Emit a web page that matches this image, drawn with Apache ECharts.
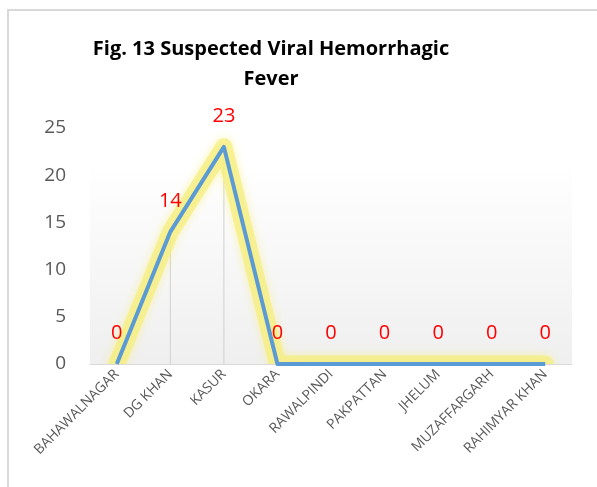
<!DOCTYPE html>
<html>
<head>
<meta charset="utf-8">
<script src="https://cdn.jsdelivr.net/npm/echarts@6/dist/echarts.min.js"></script>
<style>
  html, body { margin: 0; padding: 0; background: #fff; }
  #chart { width: 597px; height: 487px; }
</style>
</head>
<body>
<div id="chart"></div>
<script>
const districts = ["BAHAWALNAGAR", "DG KHAN", "KASUR", "OKARA", "RAWALPINDI", "PAKPATTAN", "JHELUM", "MUZAFFARGARH", "RAHIMYAR KHAN"]
const cases = [0, 14, 23, 0, 0, 0, 0, 0, 0]
const yTicks = [0, 5, 10, 15, 20, 25]

const chart = echarts.init(document.getElementById("chart"))
chart.setOption({
  animation: false,
  title: {
    text: "Fig. 13 Suspected Viral Hemorrhagic\nFever",
    left: 266,
    top: 29,
    textAlign: "center",
    textStyle: {
      fontFamily: "Open Sans",
      fontWeight: "bold",
      fontSize: 20,
      lineHeight: 30,
      color: "#000"
    }
  },
  graphic: [
    {
      type: "polyline",
      shape: { points: [[8, 500], [8, 10], [610, 10]] },
      style: { stroke: "#d9d9d9", lineWidth: 2, fill: null },
      silent: true
    },
    {
      // hides the glow below the plot area
      type: "rect",
      shape: { x: 85, y: 365, width: 500, height: 40 },
      style: { fill: "#fff" },
      z: 2.5,
      silent: true
    }
  ],
  grid: {
    left: 90,
    right: 25,
    top: 128,
    bottom: 123,
    show: true,
    borderWidth: 0,
    backgroundColor: {
      type: "linear", x: 0, y: 0, x2: 0, y2: 1,
      colorStops: [
        { offset: 0, color: "#ffffff" },
        { offset: 0.15, color: "#ffffff" },
        { offset: 1, color: "#efefef" }
      ]
    }
  },
  xAxis: {
    type: "category",
    data: districts,
    boundaryGap: true,
    z: 2.6,
    axisLine: { lineStyle: { color: "#d9d9d9", width: 1 } },
    axisTick: { show: false },
    axisLabel: {
      rotate: 45,
      interval: 0,
      margin: 8,
      color: "#595959",
      fontFamily: "Open Sans",
      fontSize: 14
    }
  },
  yAxis: {
    type: "value",
    min: yTicks[0],
    max: yTicks[yTicks.length - 1],
    interval: 5,
    axisLine: { show: false },
    axisTick: { show: false },
    splitLine: { show: false },
    axisLabel: {
      margin: 24,
      color: "#595959",
      fontFamily: "Open Sans",
      fontSize: 19
    }
  },
  series: [
    {
      // drop lines from each point
      type: "bar",
      data: cases,
      barWidth: 1,
      barGap: "-100%",
      itemStyle: { color: "#d0d0d0" },
      silent: true,
      z: 1
    },
    {
      // yellow glow
      type: "line",
      data: cases,
      symbol: "none",
      lineStyle: {
        width: 17,
        color: "rgba(246, 238, 130, 0.75)",
        shadowColor: "rgba(250, 240, 120, 0.8)",
        shadowBlur: 8,
        join: "round",
        cap: "round"
      },
      silent: true,
      z: 2
    },
    {
      type: "line",
      data: cases,
      symbol: "none",
      lineStyle: { width: 4, color: "#5b9bd5", join: "round" },
      z: 3
    },
    {
      // value labels, on top of everything
      type: "bar",
      data: cases,
      barWidth: 1,
      barGap: "-100%",
      itemStyle: { color: "transparent" },
      label: {
        show: true,
        position: "top",
        distance: 21,
        color: "#ff0000",
        fontFamily: "Open Sans",
        fontSize: 20
      },
      silent: true,
      z: 5
    }
  ]
})
</script>
</body>
</html>
